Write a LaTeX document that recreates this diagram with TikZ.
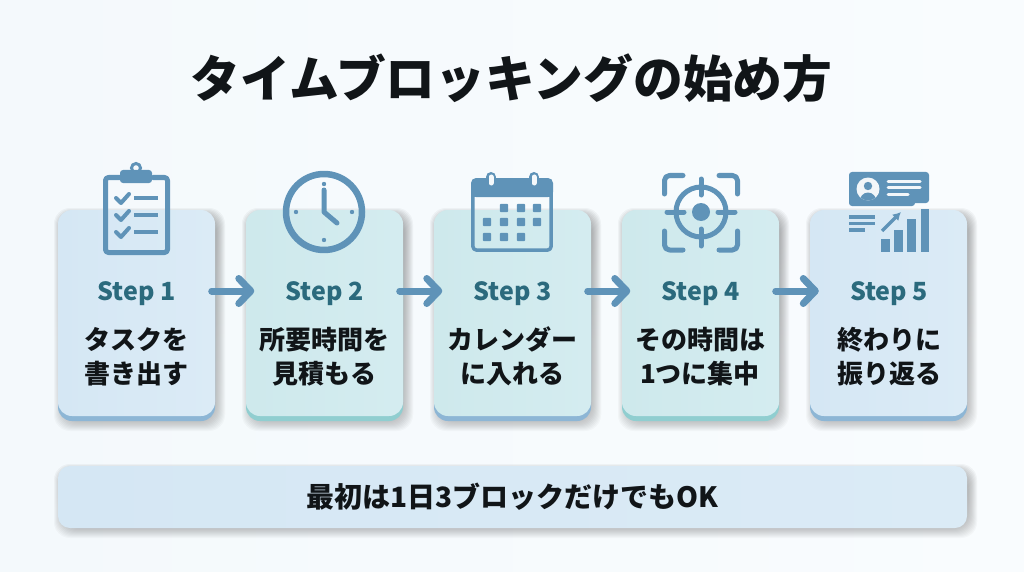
\documentclass[tikz,border=0pt]{standalone}
\usepackage{fontspec}
\setmainfont{Noto Sans}
\newfontfamily\jp{Noto Sans CJK JP}
\usetikzlibrary{arrows.meta}
\definecolor{icon}{HTML}{5F93B8}
\definecolor{stepc}{HTML}{2B6A7D}
\definecolor{ink}{HTML}{111518}
\definecolor{bgA}{HTML}{F4F9FC}
\definecolor{bgB}{HTML}{F9FCFE}
\definecolor{blueA}{HTML}{D5E7F4}
\definecolor{blueB}{HTML}{DBEBF6}
\definecolor{tealA}{HTML}{CEE9EC}
\definecolor{tealB}{HTML}{D4ECF0}
\definecolor{blueBase}{HTML}{8DB6D5}
\definecolor{tealBase}{HTML}{90CED0}
\definecolor{shade}{HTML}{5A6E80}
\tikzset{
  cardbase/.style={rounded corners=14pt,inner sep=0pt,outer sep=0pt,minimum width=157pt,minimum height=211pt},
  bluecard/.style={cardbase,left color=blueA,right color=blueB},
  tealcard/.style={cardbase,left color=tealA,right color=tealB},
  steplabel/.style={font=\jp\fontsize{25}{25}\selectfont\bfseries,text=stepc,inner sep=0pt,text height=18pt,text depth=0pt},
  bodytext/.style={font=\jp\fontsize{26}{34}\selectfont\bfseries,text=ink,align=center,inner sep=0pt},
  flow/.style={draw=icon,line width=7pt,line cap=round,-{Straight Barb[round,length=12pt,width=25pt,line width=7pt]}},
  ico/.style={draw=icon,line width=5pt,line cap=round,line join=round},
}
\newcommand{\softshadow}[4]{%
  \foreach \g in {0,1,...,9}{%
    \fill[shade,opacity=0.022,rounded corners=16pt]
      ({#1+3-\g+2},{#2+3-\g+4}) rectangle ({#3+3+\g-2},{#4+3+\g-2});
  }%
}
\begin{document}
\begin{tikzpicture}[x=1pt,y=-1pt]
\useasboundingbox (0,0) rectangle (1024,572);
\fill[left color=bgA,right color=bgB] (0,0) rectangle (1024,572);

\node[font=\jp\fontsize{49.8}{50}\selectfont\bfseries,text=ink,inner sep=0pt] (title) at (511.5,78) {タイムブロッキングの始め方};

% shadows
\softshadow{58}{210}{215}{421}
\softshadow{246}{210}{403}{421}
\softshadow{434}{210}{591}{421}
\softshadow{622}{210}{779}{421}
\softshadow{810}{210}{967}{421}
\softshadow{58}{466}{967}{528}

% card bases
\fill[blueBase,rounded corners=14pt] (58,260) rectangle (215,421);
\fill[tealBase,rounded corners=14pt] (246,260) rectangle (403,421);
\fill[blueBase,rounded corners=14pt] (434,260) rectangle (591,421);
\fill[tealBase,rounded corners=14pt] (622,260) rectangle (779,421);
\fill[blueBase,rounded corners=14pt] (810,260) rectangle (967,421);

% cards
\node[bluecard,minimum height=206pt] (c1) at (136.5,313) {};
\node[tealcard,minimum height=206pt] (c2) at (324.5,313) {};
\node[tealcard,minimum height=206pt] (c3) at (512.5,313) {};
\node[tealcard,minimum height=206pt] (c4) at (700.5,313) {};
\node[bluecard,minimum height=206pt] (c5) at (888.5,313) {};

% step labels
\node[steplabel] (s1) at (136.5,291) {Step 1};
\node[steplabel] (s2) at (324.5,291) {Step 2};
\node[steplabel] (s3) at (512.5,291) {Step 3};
\node[steplabel] (s4) at (700.5,291) {Step 4};
\node[steplabel] (s5) at (889,291) {Step 5};

% body text
\node[bodytext] (t1) at (136,356.5) {タスクを\\書き出す};
\node[bodytext] (t2) at (324,356.5) {所要時間を\\見積もる};
\node[bodytext] (t3) at (512,356.5) {カレンダー\\に入れる};
\node[bodytext] (t4) at (700,356.5) {その時間は\\1つに集中};
\node[bodytext] (t5) at (889,356.5) {終わりに\\振り返る};

% arrows
\draw[flow,shorten <=36pt,shorten >=31pt] (s1.east) -- (s2.west);
\draw[flow,shorten <=36pt,shorten >=31pt] (s2.east) -- (s3.west);
\draw[flow,shorten <=36pt,shorten >=31pt] (s3.east) -- (s4.west);
\draw[flow,shorten <=36pt,shorten >=31pt] (s4.east) -- (s5.west);

% bottom bar
\node[rounded corners=12pt,left color=blueA,right color=blueB,minimum width=909pt,minimum height=62pt,inner sep=0pt] (bar) at (512.5,497) {};
\node[font=\jp\fontsize{28}{28}\selectfont\bfseries,text=ink,inner sep=0pt] (note) at (512.5,497) {最初は1日3ブロックだけでもOK};

% --- icon 1: clipboard
\draw[ico,rounded corners=3pt] (120,177.5) -- (105.5,177.5) -- (105.5,252.5) -- (167.5,252.5) -- (167.5,177.5) -- (153,177.5);
\fill[icon,rounded corners=3pt] (120,170) rectangle (152,183);
\draw[icon,line width=3pt] (136,168) circle (4.5pt);
\foreach \yy in {198,215,232}{
  \draw[ico,line width=4pt] (116,\yy) -- (121,{\yy+5}) -- (129,{\yy-4});
  \draw[ico,line width=3.8pt,line cap=butt] (134,{\yy}) -- (158,{\yy});
}

% --- icon 2: clock
\draw[ico,line width=6.5pt] (324,212) circle (38pt);
\draw[ico] (324,190) -- (324,212) -- (337,223);
\foreach \dx/\dy in {0/-28,0/28,-28/0,28/0}{
  \fill[icon] ({324+\dx},{212+\dy}) circle (2.2pt);
}

% --- icon 3: calendar
\draw[ico,line width=3.5pt,rounded corners=4pt] (472.8,190) rectangle (551.2,250.2);
\fill[icon,rounded corners=5pt] (471,178) rectangle (553,197);
\fill[icon] (471,190) rectangle (553,197);
\foreach \xx in {491,534}{
  \draw[icon,line width=10pt,line cap=round] (\xx,177) -- (\xx,183);
  \draw[white!94!icon,line width=5pt,line cap=round] (\xx,177) -- (\xx,183);
}
\foreach \xx/\yy in {504/208,521/208,537/208,487/222,504/222,521/222,537/222,487/237,504/237,521/237}{
  \fill[icon,rounded corners=1pt] ({\xx-4.2},{\yy-4.2}) rectangle ({\xx+4.2},{\yy+4.2});
}

% --- icon 4: target
\draw[ico,line width=5pt] (701,212) circle (25pt);
\fill[icon] (701,212) circle (9pt);
\draw[ico] (701,179) -- (701,195);
\draw[ico] (701,229) -- (701,246);
\draw[ico] (667,212) -- (684,212);
\draw[ico] (718,212) -- (735,212);
\draw[ico,rounded corners=5pt] (664.5,194) -- (664.5,175.5) -- (683,175.5);
\draw[ico,rounded corners=5pt] (719,175.5) -- (737.5,175.5) -- (737.5,194);
\draw[ico,rounded corners=5pt] (664.5,231) -- (664.5,250) -- (683,250);
\draw[ico,rounded corners=5pt] (719,250) -- (737.5,250) -- (737.5,231);

% --- icon 5: report
\fill[icon,rounded corners=3pt] (849,172) rectangle (929,203);
\fill[icon,rounded corners=3pt] (849,190) rectangle (915,206);
\fill[white!92!icon] (868,189) circle (11.5pt);
\fill[icon] (868,186) circle (4.2pt);
\begin{scope}
  \clip (868,189) circle (11.5pt);
  \fill[icon] (868,202) ellipse (8.5pt and 9.5pt);
\end{scope}
\draw[white!92!icon,line width=3pt,line cap=round] (888,181) -- (920,181);
\draw[white!92!icon,line width=3pt,line cap=round] (888,187.5) -- (920,187.5);
\draw[white!92!icon,line width=3pt,line cap=round] (888,194) -- (908,194);
\draw[icon,line width=3.2pt] (849,217) -- (875,217);
\draw[icon,line width=3.2pt] (849,223.5) -- (875,223.5);
\draw[icon,line width=3.2pt] (849,230) -- (865,230);
\fill[icon] (881,239) rectangle (889.5,252);
\fill[icon] (894,230) rectangle (903,252);
\fill[icon] (907,219) rectangle (916,252);
\fill[icon] (921,209) rectangle (929,252);
\draw[icon,line width=3.4pt,-{Latex[length=8pt,width=9pt]}] (882,231) -- (901,212);
\end{tikzpicture}
\end{document}
